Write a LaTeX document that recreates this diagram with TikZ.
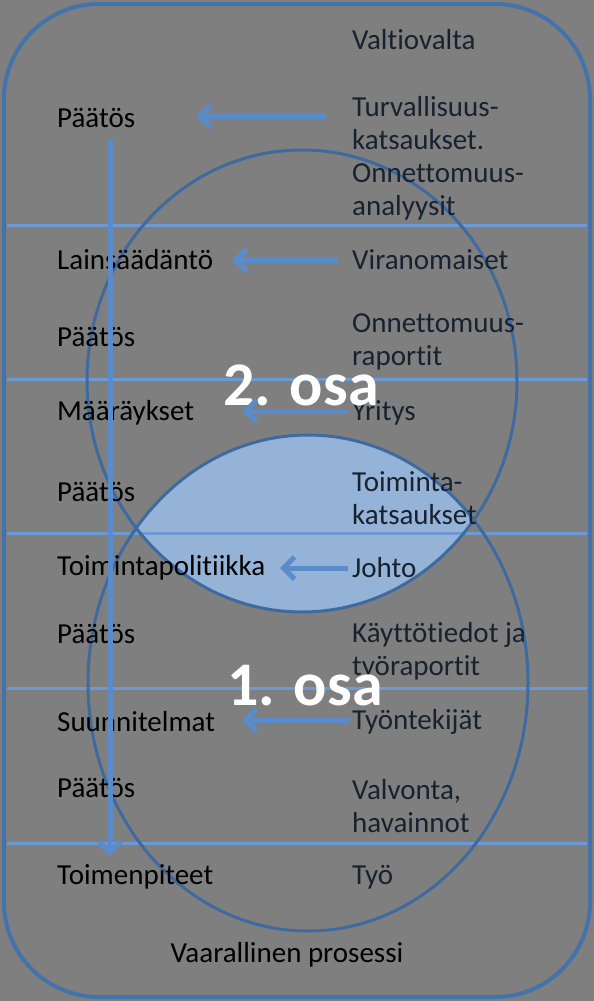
\documentclass[tikz,border=0pt]{standalone}
\usepackage{fontspec}
\setmainfont{Carlito}[Ligatures=NoCommon]
\usepackage{tikz}
\usetikzlibrary{arrows.meta}

\definecolor{bggray}{HTML}{7F7F7F}
\definecolor{framecol}{HTML}{4472AB}
\definecolor{linecol}{HTML}{6D9AD2}
\definecolor{ringcol}{HTML}{3E6AA0}
\definecolor{lenscol}{HTML}{95B3D7}
\definecolor{flowcol}{HTML}{5A8CCB}
\definecolor{textdark}{HTML}{18222F}

\begin{document}
\begin{tikzpicture}[x=1pt, y=-1pt,
    lefttext/.style={anchor=west, inner sep=0pt, align=left,
      font=\fontsize{29}{33}\selectfont, text=black},
    righttext/.style={anchor=west, inner sep=0pt, align=left,
      font=\fontsize{29}{33}\selectfont, text=textdark},
    parttext/.style={inner sep=0pt, text=white,
      font=\fontsize{62}{62}\selectfont\bfseries},
    level/.style={linecol, line width=3pt},
    ring/.style={ringcol, line width=3pt},
    flow/.style={flowcol, line width=5pt,
      -{Straight Barb[length=11pt, width=22pt]}}]
      \useasboundingbox (0,0) rectangle (594,1001);
      \fill[bggray] (0,0) rectangle (594,1001);

      % lens of the two parts
      \begin{scope}
        \clip (302,381) ellipse [x radius=215, y radius=231];
        \fill[lenscol] (308,683) ellipse [x radius=220, y radius=248];
      \end{scope}

      % levels
      \draw[level] (7,225) -- (587,225);
      \draw[level] (7,379) -- (587,379);
      \draw[level] (7,533) -- (587,533);
      \draw[level] (7,688) -- (587,688);
      \draw[level] (7,843) -- (587,843);

      \draw[framecol, line width=4pt, rounded corners=95pt]
        (4,4) rectangle (590,997);

      \draw[ring] (302,381) ellipse [x radius=215, y radius=231];
      \draw[ring] (308,683) ellipse [x radius=220, y radius=248];

      % left column
      \node[lefttext] (p1) at (57,118) {Päätös};
      \node[lefttext] (laki) at (57,260) {Lainsäädäntö};
      \node[lefttext] (p2) at (57,337) {Päätös};
      \node[lefttext] (maar) at (57,413) {Määräykset};
      \node[lefttext] (p3) at (57,492) {Päätös};
      \node[lefttext] (polit) at (57,568) {Toimintapolitiikka};
      \node[lefttext] (p4) at (57,634) {Päätös};
      \node[lefttext] (suun) at (57,722) {Suunnitelmat};
      \node[lefttext] (p5) at (57,788) {Päätös};
      \node[lefttext] (toim) at (57,877) {Toimenpiteet};

      % right column
      \node[righttext] (valtio) at (352,40) {Valtiovalta};
      \node[righttext] (turv) at (352,158) {Turvallisuus-\\katsaukset.\\Onnettomuus-\\analyysit};
      \node[righttext] (viran) at (352,260) {Viranomaiset};
      \node[righttext] (onn) at (352,342) {Onnettomuus-\\raportit};
      \node[righttext] (yritys) at (352,413) {Yritys};
      \node[righttext] (katsa) at (352,498) {Toiminta-\\katsaukset};
      \node[righttext] (johto) at (352,568) {Johto};
      \node[righttext] (kaytto) at (352,651) {Käyttötiedot ja\\työraportit};
      \node[righttext] (tyont) at (352,722) {Työntekijät};
      \node[righttext] (valv) at (352,806) {Valvonta,\\havainnot};
      \node[righttext] (tyo) at (352,877) {Työ};

      \node[lefttext, anchor=center] (prosessi) at (287,955) {Vaarallinen prosessi};

      \node[parttext] (osa2) at (301,385) {2. osa};
      \node[parttext] (osa1) at (305,686) {1. osa};

      % arrows
      \coordinate (a1s) at (326,116);
      \coordinate (a1e) at (196,116);
      \coordinate (a2s) at (338,260);
      \coordinate (a2e) at (232,260);
      \coordinate (a3s) at (348,411);
      \coordinate (a3e) at (242,411);
      \coordinate (a4s) at (348,568);
      \coordinate (a4e) at (280,568);
      \coordinate (a5s) at (350,720);
      \coordinate (a5e) at (242,720);
      \coordinate (downs) at (110,140);
      \coordinate (downe) at (110,856);
      \draw[flow] (a1s) -- (a1e);
      \draw[flow] (a2s) -- (a2e);
      \draw[flow] (a3s) -- (a3e);
      \draw[flow] (a4s) -- (a4e);
      \draw[flow] (a5s) -- (a5e);
      \draw[flow] (downs) -- (downe);
    \end{tikzpicture}
\end{document}
